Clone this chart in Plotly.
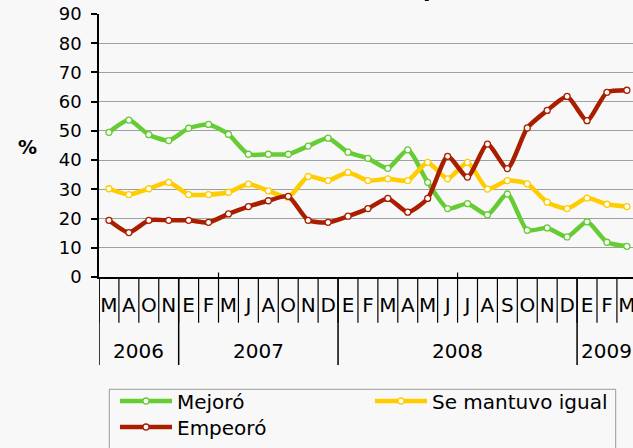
import plotly.graph_objects as go

months = ["M", "A", "O", "N",
          "E", "F", "M", "J", "A", "O", "N", "D",
          "E", "F", "M", "A", "M", "J", "J", "A", "S", "O", "N", "D",
          "E", "F", "M"]
years = ["2006", "2007", "2008", "2009"]
year_counts = [4, 8, 12, 3]

mejoro = [49.5, 53.7, 48.7, 46.7, 50.9, 52.2, 48.8, 42.0, 42.0, 42.0, 44.8, 47.5,
          42.7, 40.6, 37.2, 43.5, 32.4, 23.4, 25.1, 21.3, 28.4, 16.0, 16.8, 13.7,
          18.9, 11.9, 10.5]
igual = [30.2, 28.2, 30.2, 32.4, 28.2, 28.2, 29.0, 31.8, 29.5, 27.3, 34.4, 33.0,
         35.8, 33.0, 33.6, 33.0, 39.2, 33.6, 39.2, 30.1, 33.0, 31.9, 25.6, 23.4,
         27.0, 24.9, 24.1]
empeoro = [19.4, 15.2, 19.4, 19.4, 19.4, 18.7, 21.6, 24.1, 26.1, 27.6, 19.4, 18.7,
           20.8, 23.4, 26.9, 22.2, 26.9, 41.3, 34.2, 45.5, 37.1, 51.0, 57.0, 61.8,
           53.5, 63.2, 63.9]

series = [("Mejoró", mejoro, "#66CC33", "legend"),
          ("Se mantuvo igual", igual, "#FFCC00", "legend"),
          ("Empeoró", empeoro, "#AA1E00", "legend2")]

x = list(range(len(months)))
W, H = 633, 448
ML, MR, MT, MB = 99, 0, 14, 171
PW = W - ML - MR
PH = H - MT - MB
step = 19.92
xmax = -0.5 + PW / step
BG = "#F8F8F8"
FONT = "DejaVu Sans"

fig = go.Figure()
for name, vals, col, leg in series:
    fig.add_trace(go.Scatter(
        x=x, y=vals, name=name, mode="lines+markers", legend=leg,
        line=dict(color=col, width=4.5, shape="spline", smoothing=0.6),
        marker=dict(size=6, color="white", line=dict(color=col, width=1.3)),
        cliponaxis=False,
    ))

def py(pix):
    return (H - MB - pix) / PH

def px(pix):
    return (pix - ML) / PW

shapes = []
# month dividers below axis
for i in range(len(months) + 1):
    xb = i - 0.5
    if xb > xmax:
        continue
    shapes.append(dict(type="line", xref="x", yref="paper", x0=xb, x1=xb,
                       y0=0, y1=py(322.7), line=dict(color="black", width=1.2)))
# year dividers (longer)
b = -0.5
for c in [0] + year_counts[:-1]:
    b += c
    shapes.append(dict(type="line", xref="x", yref="paper", x0=b, x1=b,
                       y0=0, y1=py(365), line=dict(color="black", width=1.5)))
# small ticks above axis
for xb in [5.5, 17.5]:
    shapes.append(dict(type="line", xref="x", yref="paper", x0=xb, x1=xb,
                       y0=0, y1=py(272.5), line=dict(color="black", width=1.2)))
# legend frame (bottom runs past the lower edge, as in the reference)
shapes.append(dict(type="rect", xref="paper", yref="paper",
                   x0=px(109.3), x1=px(615.7), y0=py(389.3), y1=py(470),
                   line=dict(color="#999999", width=1), fillcolor="rgba(0,0,0,0)",
                   layer="below"))

annotations = []
start = 0
for yr, c in zip(years, year_counts):
    center = start + (c - 1) / 2
    annotations.append(dict(text=yr, x=center, xref="x", y=py(350.5), yref="paper",
                            showarrow=False, xanchor="center", yanchor="middle",
                            font=dict(family=FONT, size=20, color="black")))
    start += c
annotations.append(dict(text="<b>%</b>", x=px(27), xref="paper",
                        y=py(147), yref="paper", showarrow=False,
                        xanchor="center", yanchor="middle",
                        font=dict(family=FONT, size=19, color="black")))
# cut-off title (only a descender visible at top edge)
annotations.append(dict(text="<b>p</b>", x=px(431), xref="paper",
                        y=py(4.5), yref="paper", showarrow=False,
                        xanchor="center", yanchor="bottom",
                        font=dict(family=FONT, size=22, color="black")))

legend_common = dict(orientation="h", xanchor="left", yanchor="top",
                     bgcolor="rgba(0,0,0,0)", borderwidth=0,
                     font=dict(family=FONT, size=20, color="black"),
                     itemwidth=52, entrywidth=188, entrywidthmode="pixels",
                     traceorder="normal", tracegroupgap=0)

fig.update_layout(
    width=W, height=H,
    margin=dict(l=ML, r=MR, t=MT, b=MB, pad=0, autoexpand=False),
    paper_bgcolor=BG, plot_bgcolor=BG,
    font=dict(family=FONT, color="black"),
    xaxis=dict(range=[-0.5, xmax], tickmode="array", tickvals=x, ticktext=months,
               showgrid=False, zeroline=False, showline=True, linecolor="black",
               linewidth=1.5, ticks="", tickfont=dict(family=FONT, size=20),
               ticklabelstandoff=9, automargin=False, ticklabeloverflow="allow"),
    yaxis=dict(range=[0, 90], tickmode="array", tickvals=list(range(0, 91, 10)),
               showgrid=True, gridcolor="#A0A0A0", gridwidth=1, zeroline=False,
               showline=True, linecolor="black", linewidth=1.5,
               ticks="outside", ticklen=6, tickcolor="black", tickwidth=1.5,
               tickfont=dict(family=FONT, size=18), ticklabelstandoff=6,
               automargin=False),
    showlegend=True,
    legend=dict(legend_common, x=px(115), y=py(381.5)),
    legend2=dict(legend_common, x=px(115), y=py(407.5)),
    shapes=shapes, annotations=annotations,
)

fig.write_html(
    "out.html",
    config={"displayModeBar": False},
    post_script=("document.body.style.margin='0';"
                 "document.body.style.background='" + BG + "';"),
)
